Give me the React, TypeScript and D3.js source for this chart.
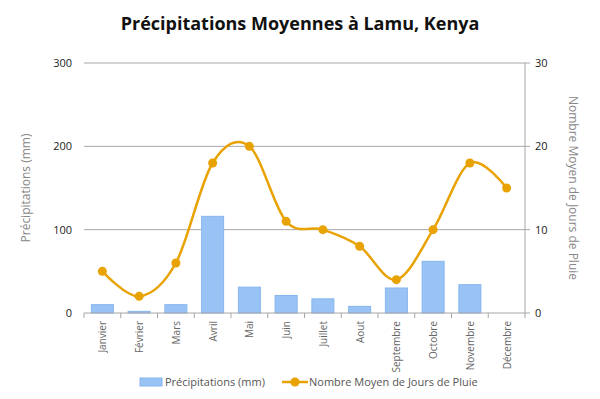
import React, { useRef, useEffect } from "react";
import * as d3 from "d3";

const months = ["Janvier", "Février", "Mars", "Avril", "Mai", "Juin", "Juillet", "Aout", "Septembre", "Octobre", "Novembre", "Décembre"];
const precipitation = [10, 2, 10, 116, 31, 21, 17, 8, 30, 62, 34, 0];
const rainDays = [5, 2, 6, 18, 20, 11, 10, 8, 4, 10, 18, 15];
const leftTicks = [0, 100, 200, 300];
const rightTicks = [0, 10, 20, 30];

export default function App() {
    const svgRef = useRef<SVGSVGElement>(null);

    useEffect(() => {
        if (!svgRef.current) return;
        const svg = d3.select(svgRef.current);
        svg.selectAll("*").remove();

        const font = "'Open Sans', sans-serif";
        const margin = { top: 63, right: 75, bottom: 86, left: 84 };
        const width = 600 - margin.left - margin.right;
        const height = 399 - margin.top - margin.bottom;

        const x = d3.scaleBand().domain(months).range([0, width]);
        const yL = d3.scaleLinear().domain([0, 300]).range([height, 0]);
        const yR = d3.scaleLinear().domain([0, 30]).range([height, 0]);

        svg.append("text")
            .attr("x", 300).attr("y", 30)
            .attr("text-anchor", "middle")
            .attr("font-family", font).attr("font-weight", "bold")
            .attr("font-size", 18).attr("fill", "#111")
            .text("Précipitations Moyennes à Lamu, Kenya");

        const g = svg.append("g").attr("transform", `translate(${margin.left},${margin.top})`);

        // gridlines
        g.selectAll(".grid").data(leftTicks.filter(t => t > 0)).join("line")
            .attr("x1", 0).attr("x2", width)
            .attr("y1", d => yL(d)).attr("y2", d => yL(d))
            .attr("stroke", "#a6a6a6").attr("stroke-width", 1);

        // left tick labels
        g.selectAll(".ll").data(leftTicks).join("text")
            .attr("x", -12).attr("y", d => yL(d) + 4)
            .attr("text-anchor", "end")
            .attr("font-family", font).attr("font-size", 11).attr("fill", "#222")
            .text(d => d);

        // right axis
        g.append("line").attr("x1", width).attr("x2", width).attr("y1", 0).attr("y2", height)
            .attr("stroke", "#a6a6a6");
        g.selectAll(".rt").data(rightTicks).join("line")
            .attr("x1", width).attr("x2", width + 5)
            .attr("y1", d => yR(d)).attr("y2", d => yR(d))
            .attr("stroke", "#a6a6a6");
        g.selectAll(".rl").data(rightTicks).join("text")
            .attr("x", width + 10).attr("y", d => yR(d) + 4)
            .attr("font-family", font).attr("font-size", 11).attr("fill", "#222")
            .text(d => d);

        // bars
        const bw = 22;
        g.selectAll(".bar").data(months).join("rect")
            .attr("x", (d) => x(d)! + x.bandwidth() / 2 - bw / 2)
            .attr("y", (d, i) => yL(precipitation[i]))
            .attr("width", bw)
            .attr("height", (d, i) => height - yL(precipitation[i]))
            .attr("fill", "#9ac3f5").attr("stroke", "#86b5f0").attr("stroke-width", 1);

        // bottom axis
        g.append("line").attr("x1", 0).attr("x2", width).attr("y1", height).attr("y2", height)
            .attr("stroke", "#a6a6a6");
        const edges = months.map(m => x(m)!).concat([width]);
        g.selectAll(".bt").data(edges).join("line")
            .attr("x1", d => d).attr("x2", d => d)
            .attr("y1", height).attr("y2", height + 5)
            .attr("stroke", "#a6a6a6");
        g.selectAll(".ml").data(months).join("text")
            .attr("transform", d => `translate(${x(d)! + x.bandwidth() / 2 + 4},${height + 8}) rotate(-90)`)
            .attr("text-anchor", "end")
            .attr("font-family", font).attr("font-size", 10).attr("fill", "#666")
            .text(d => d);

        // line
        const pts = rainDays.map((v, i) => [x(months[i])! + x.bandwidth() / 2, yR(v)] as [number, number]);
        g.append("path")
            .attr("d", d3.line().curve(d3.curveCardinal.tension(0))(pts))
            .attr("fill", "none").attr("stroke", "#e8a202").attr("stroke-width", 2.5);
        g.selectAll(".dot").data(pts).join("circle")
            .attr("cx", d => d[0]).attr("cy", d => d[1]).attr("r", 4.5)
            .attr("fill", "#e8a202");

        // axis titles
        svg.append("text")
            .attr("transform", `translate(30,${margin.top + height / 2}) rotate(-90)`)
            .attr("text-anchor", "middle")
            .attr("font-family", font).attr("font-size", 12).attr("fill", "#888")
            .text("Précipitations (mm)");
        svg.append("text")
            .attr("transform", `translate(569,${margin.top + height / 2}) rotate(90)`)
            .attr("text-anchor", "middle")
            .attr("font-family", font).attr("font-size", 12).attr("fill", "#888")
            .text("Nombre Moyen de Jours de Pluie");

        // legend
        const lg = svg.append("g").attr("transform", "translate(0,382)");
        lg.append("rect").attr("x", 140).attr("y", -4).attr("width", 22).attr("height", 8)
            .attr("fill", "#9ac3f5").attr("stroke", "#86b5f0");
        lg.append("text").attr("x", 165).attr("y", 4)
            .attr("font-family", font).attr("font-size", 11).attr("fill", "#555")
            .text("Précipitations (mm)");
        lg.append("line").attr("x1", 282).attr("x2", 308).attr("y1", 0).attr("y2", 0)
            .attr("stroke", "#e8a202").attr("stroke-width", 2.5);
        lg.append("circle").attr("cx", 295).attr("cy", 0).attr("r", 4.5).attr("fill", "#e8a202");
        lg.append("text").attr("x", 309).attr("y", 4)
            .attr("font-family", font).attr("font-size", 11).attr("fill", "#555")
            .text("Nombre Moyen de Jours de Pluie");
    }, []);

    return (
        <svg ref={svgRef} width={600} height={399}
            style={{ position: "absolute", left: 0, top: 0, background: "#fff" }} />
    );
}
